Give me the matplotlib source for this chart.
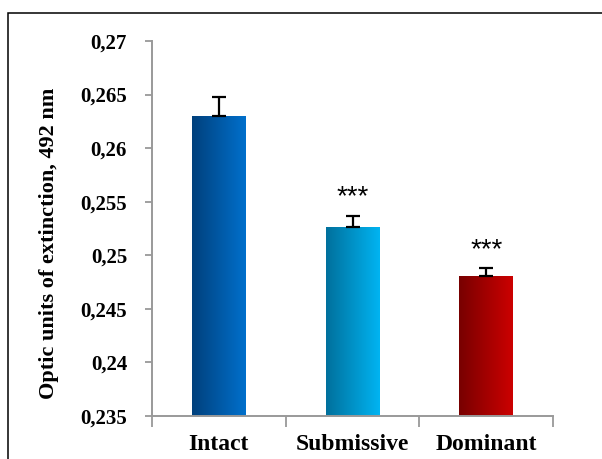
import numpy as np
import matplotlib
matplotlib.use('Agg')
import matplotlib.pyplot as plt
from matplotlib.patches import Rectangle
from matplotlib.colors import LinearSegmentedColormap

# Data
groups = ['Intact', 'Submissive', 'Dominant']
values = [0.2630, 0.2526, 0.2481]
errors = [0.0018, 0.0011, 0.0007]
stars = ['', '***', '***']
yticks = [0.235, 0.24, 0.245, 0.25, 0.255, 0.26, 0.265, 0.27]
ytick_labels = ['0,235', '0,24', '0,245', '0,25', '0,255', '0,26', '0,265', '0,27']

# gradient colours, left (dark) -> right (light)
bar_grad = [('#00407c', '#0070cc'), ('#00709c', '#00b4f2'), ('#780000', '#cc0000')]

serif = ['Liberation Serif', 'DejaVu Serif']

fig = plt.figure(figsize=(6.02, 4.59), dpi=100)
ax = fig.add_axes([152 / 602, 1 - 416 / 459, (553 - 152) / 602, (416 - 41) / 459])

x = np.arange(len(groups))
width = 0.40
bars = ax.bar(x, values, width, color='none', edgecolor='none', zorder=2)

grad = np.linspace(0, 1, 256).reshape(1, -1)
for b, (c0, c1) in zip(bars, bar_grad):
    cmap = LinearSegmentedColormap.from_list('g', [c0, c1])
    bx = b.get_x()
    im = ax.imshow(grad, cmap=cmap, aspect='auto', zorder=2,
                   extent=[bx, bx + b.get_width(), 0.235, b.get_height()])
    im.set_clip_path(b)

ax.errorbar(x, values, yerr=[np.zeros(3), errors], fmt='none', ecolor='black',
            elinewidth=1.6, capsize=5, capthick=1.6, zorder=3)

for xi, v, e, s in zip(x, values, errors, stars):
    if s:
        ax.text(xi, v + e + 0.0017, s, ha='center', va='center', fontsize=20,
                family=['Liberation Sans', 'DejaVu Sans'])

ax.set_xlim(-0.5, 2.5)
ax.set_ylim(0.235, 0.27)
ax.set_yticks(yticks)
ax.set_yticklabels(ytick_labels, family=serif, fontweight='bold', fontsize=15)
ax.set_xticks([-0.5, 0.5, 1.5, 2.5])
ax.set_xticklabels([])
ax.set_xticks(x, minor=True)
ax.set_xticklabels(groups, minor=True, family=serif, fontweight='bold', fontsize=17)
ax.tick_params(axis='x', which='minor', length=0, pad=13)
ax.tick_params(axis='x', which='major', length=8, width=1.3, color='#999999')
ax.tick_params(axis='y', length=5, width=1.3, color='#999999', pad=13)

for side in ['top', 'right']:
    ax.spines[side].set_visible(False)
for side in ['left', 'bottom']:
    ax.spines[side].set_color('#999999')
    ax.spines[side].set_linewidth(1.4)

ax.set_ylabel('Optic units of extinction, 492 nm', family=serif, fontweight='bold',
              fontsize=16)
ax.yaxis.set_label_coords(-(152 - 59) / 401, 0.46)

# outer frame
fig.patches.append(Rectangle((8 / 602, -0.1), 1.2, (459 - 13) / 459 + 0.1,
                             transform=fig.transFigure, fill=False,
                             edgecolor='black', linewidth=1.1))

fig.savefig('out.png', dpi=100)
